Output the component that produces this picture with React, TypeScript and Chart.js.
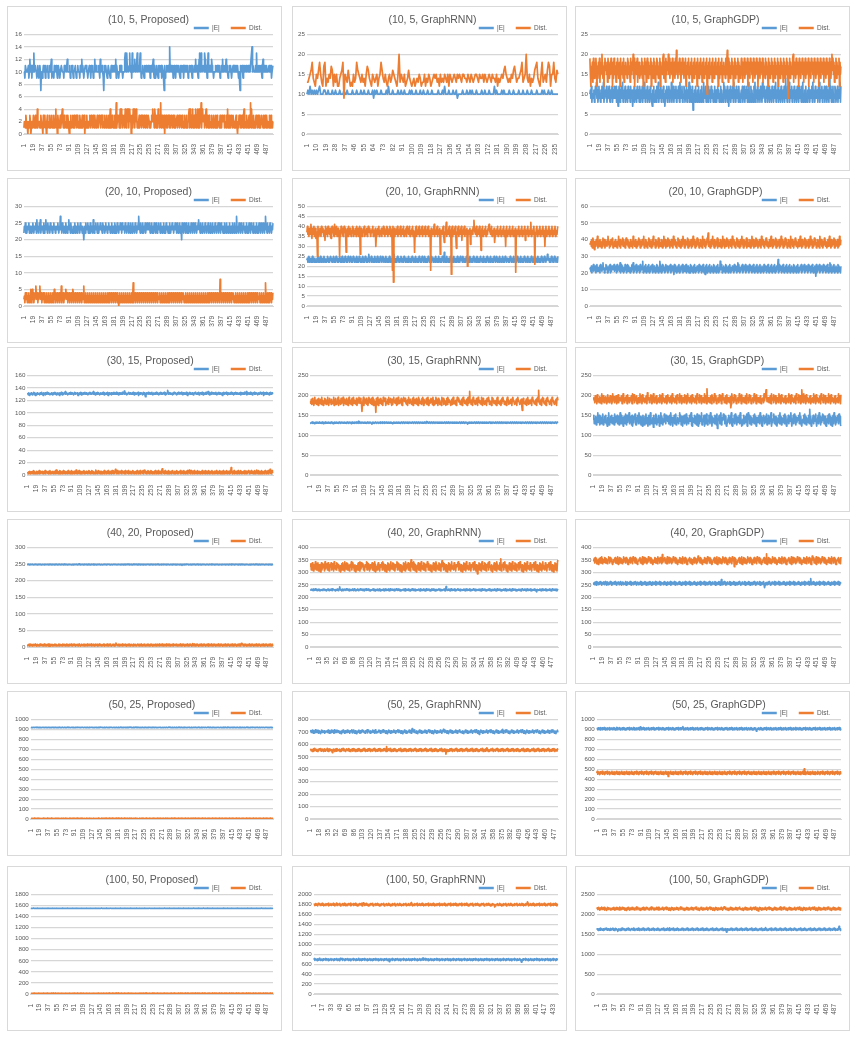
import React, { useEffect, useRef } from 'react';
import { Chart, registerables } from 'chart.js';

Chart.register(...registerables);

// Every series below is typed point by point, one character per point.
// A character is a base-36 code c and the plotted value is  base + c * step.
const decode = (s: string, base: number, step: number): number[] =>
  s.replace(/\s+/g, '').split('').map((ch) => base + parseInt(ch, 36) * step);

// ---------- (10, 5, ...) ----------
const E_10_5_PROPOSED = decode(`
3324433334 2353342433 6334432343 2343033234 3342433342
3343352333 2433343234 4323344333 2434433533 3342334432
3334423343 3324335343 2334443323 3433243342 3353343333
4325333432 0343433234 4332343343 3433524333 2344343323
3356436443 3463342633 4453433634 4336423343 3243343334
3342343335 3243234332 4343342443 3042334334 3373343342
3433243343 4332434334 2433434342 3343343243 3343533432
3563464334 4365334236 3344335433 2333433434 3342334353
4334353432 3343432334 3433434343 2330433432 4343343334
3343355734 4333436333 4343343245 3433434333 3433442334`, 7, 1);
const DIST_10_5_PROPOSED = decode(`
1221321102 2132012213 3123121412 2211322103 1231202312
2132123121 3212412032 2123123421 2312213132 1021312231
2312231321 2132112312 2302213122 1232132213 2132212321
1322132312 2132213221 3124121321 2131251232 3124142312
2314213424 1342302314 2413243121 2312231322 1321232123
3212123242 3143213214 2312512321 2302231213 2312132213
2132122312 2312321321 2132213122 3414213241 2312413241
3413251342 2312341231 2312213221 3221321312 2213121322
2312213241 2312132213 3121232102 1323121321 3412213221
2313514221 3121232213 2132123221 3123213212 2132131212`, 0, 1);

const E_10_5_GRAPHRNN = decode(`
1213121212 1231112211 2111211211 1211121121 1112111211
1211211121 1120212111 2111121311 1211112112 1121111212
1112111211 2111211121 1111211121 3111211121 1201111211
1211212111 2111121121 1121111312 1111212111 1211121111
2111211121 1121111211 1121211121 12111111`, 9, 1);
const DIST_10_5_GRAPHRNN = decode(`
4456795436 5796438935 4658736463 3567906547 5343645976
5464536875 4365456356 9754643564 5765436b46 5463457543
4534546534 4635465345 6564536454 6546365456 5465654665
5465465456 6546556465 4565465546 3545657865 4546578645
5679456b54 6354578954 3694564798 36695476`, 9, 1);

const E_10_5_GRAPHGDP = decode(`
4536243452 3647352463 4253643724 3546253463 2543624536
3462541364 2536472534 6243526345 2634513462 4352643526
4253624637 2453624352 6342153624 3526437245 3624536241
3546253642 5372436254 3624536427 3546243652 4362543726
4253604352 6342536243 5263427354 6243526345 2634524362
3524635243 6253427364 2536241536 2453627435 2634526342
4536243625 3462537243 6253426372 4536243526 3427354624
5362436253 4263524637 2453624352 6342536248 3526437245
3624536243 5263426354 2637243526 3425364253 4627354263
4352637245 3624536243 6253429364 2536243652 4362543726`, 6, 1);
const DIST_10_5_GRAPHGDP = decode(`
c85a9b6ca7 8bc95a7b9c 6a8bd97a5b c9a8b6c9a7 b8c9a5b7c8
9a6b8ca79b 5c8a9b7c6a 8b9a7cb8a9 6c8b9ad7c5 a9b8c6a9b7
8a9c7b5a9c 8b6ac97b8a 9c5b8a7c9b 6a8cb97a8c 5b9a8cd7b9
6c8b9ad8c7 a9b8c6a9b7 c8e9a7b9c8 a6b9c8a7b9 c5a8b9c7a8
b9c6a8b7c9 a8b5c9a7b8 c9a6b8c7a9 b8c3a9b7c8 a9b6c8a7b9
c8a9b5c7a8 b9c6a8b9a7 c8bea6c8b7 a9c8b5a9c7 b8a9c6b8a7
9c8b6a9c7b 8a9c5b8a7c 9b8a6c9b7a 8c9b5a8c7b 9a8c6b9a7c
8b9a5c8b7a 9c8b6a9c7b 8a9c5b8a7c 9b8a6c9b7a 8c9b2a8c7b
9a8cd6b9a7 c8b9a5c8b7 a9c8b6a9c7 b8a9c5b8a7 c9b8a6c9b7
a8c9b5a8c7 b9a8c6b9a7 c8b9a5c8b7 ad9c8b6a9c 7b8a9c5b8a`, 7, 1);

// ---------- (20, 10, ...) ----------
const E_20_10_PROPOSED = decode(`
2435232434 5234324353 2434526343 2536243432 5243634253
3425343243 5342434353 2437342534 2342534243 6342534232
4352434253 3425343243 0342534352 4325243426 3243534253
2435343254 3423534243 5342435234 3254232534 2435342534
3425342435 2342534253 4325342435 7342534253 2435243534
3542435234 2534253243 5342534243 5234253432 4253243534
2435342532 4352430534 2534253242 5343253425 3425342435
6342534253 4325342435 2342534253 4325342435 2534253432
4253425342 4352343253 4253427343 2534253423 5342435234
2534253432 5342435234 2534253425 3425734253 4325342435`, 20, 1);
const DIST_20_10_PROPOSED = decode(`
2314243132 4132513524 1324632413 2463241324 3142314231
4132413241 3524132413 2413261324 1324532413 2413241354
1324132413 2413241324 6132413241 3241324132 4132413241
3241324132 4132413241 2413241324 1324132413 0241324132
4132413241 3241324137 1324132413 2413241324 1324132413
2413241324 1324132413 3241324132 4132413241 2413241324
1324132413 2413241324 4132413241 3241324132 4132413241
3241324132 4132413241 2413241324 1324132413 2418241324
1324132413 2413241324 4132413241 3241324132 4132413241
2413241324 1324132413 3241324132 4132713241 2413241324`, 0, 1);

const E_20_10_GRAPHRNN = decode(`
3423524342 3524324232 4352342532 4342534232 4532423543
2435243253 4232453242 5324235432 4253423542 3253424325
4232543242 3524325342 4236424352 4324253423 5424325342
3542432534 2342532434 2536243242 5342324532 4325342432
4253424325 3424325342 4235432425 3423524324 2534243253
3424325342 4253424325 3427324253 4243253424 3253424325
4234253432 5342432534 2432534243 2534243254 3243253424
2534243253 4243253424 3253423542 4325342435 2432534243
3242534243 2534243253 4243253424 3253424325 3424325342
4253424325 3424325342 4253424365 3424325342 4253424325`, 20, 1);
const DIST_20_10_GRAPHRNN = decode(`
ruqsptrqvs otqrupstor qfupsrtqpu rstqpsnurq tpusrqtpos
urtqpvtrqu pstqrfspur tqpsurtqhs rtpuqstrpq sutprqstpu
qrtpsugrtq psrtupqsrt pqusrtqpsr tupqsrtkps qtrupsqrtp
sruqtpsrqu tpsrqutpsr 8u2qtpsrqt upsrqtupsr qtuprsqtpu
rsqtupsrqt upsrhqtups rqtupsrqtu psrqtupsrq tupsrq8tps
rqtvpsrqtu psrqtgpsrq tupmrqtwps rqtupsr6tu psrqtupjrq
tupsrqtuns rqtupsrqta psrqtlpsrq tuxsrqtups rqtupsiqtu
psrqtupsrq tuvsrqtups rqtmpsrqtu psrqtupsrq tupsrktups
rqtupsrqtu psrqt7psrq tupsrqtups rqtunsrqtu psrqtwpsrq
tupbrqtups rqtupsrqtu psrktupsrq tupsrqtups rqtupsrqtu`, 10, 1);

const E_20_10_GRAPHGDP = decode(`
7869587a68 7958a67869 5a7869b785 68a7958697 a5869787a6
8795a68796 b5a8697586 a7958a6987 5869a7b586 97a5869785
a6879c5869 7a58697a58 6979a58697 586a79586c 9758a69785
6a87958697 a5869784a6 9758697a58 6979a58696 7a58697585
a6978596a7 5869785a69 78596a7584 97a58697a5 869785a697
8596a7586c 97a5869785 a6978596a7 5869785a69 7859b6a758
697a58697a 5869785a69 78596a7586 97a58697a5 869785a697
8596a75869 7a58697a58 6978d5a697 8596a75869 7a58697a58
69785a6978 596a758697 a58697a586 9785a69785 96a7586973
a58697a586 9785a69785 96a7586b7a 58697a5869 785a697859`, 15, 1);
const DIST_20_10_GRAPHGDP = decode(`
9ab8c7da96 b8ac9e7ba8 c9a7b8d9ac 7b9a8ce9b7 a8c9bd7a9b
8ca97b9ea8 c7b9ad8c9a 7bd9ac8b7a 9c8ba7e9b8 ac79b8ad9c
7ba8c9be7a 9c8b7a9dc8 ba79c8eb9a 7c8ba9d7cb 8a9c7b8ea9
c7ba8d9cb7 a9c8b7ea9c 8b7a9dc8ba 79c8bea97c 8ba9d7cb8a
9c7b8ea9c7 ba8d9cb7a9 c8b7ea9c8b 7a9dcg8ba7 9c8bea97c8
ba9d7cb8a9 c7b8ea9c7b a8d9cb7a9c 8b7ea9c8b7 a9dc8ba79c
8bea97c8ba 9d7cb8a9c7 b8ea9c7ba8 d9cb7a9c8b 7ea9c8b7a9
dc8ba79c8b ea97c8ba9d 7cb8a9c7b8 ea9c7ba8d9 cb7a9c8b7e
a9c8b7a9dc 8ba79c8bea 97c8ba9d7c b8a9c7b8ea 9c7ba8d9cb
7a9c8b7ea9 c8b7a9dc8b a79c8bea97 c8ba9d7cb8 a9c7b8ea9c`, 28, 1);

// ---------- (30, 15, ...) ----------
const E_30_15_PROPOSED = decode(`
ab9ca8bacb 9abdac8b9a cabab9cbad ab8cabc9ba dbacab9abc
a9bcabdac9 bacab8cabd a9cbacbeab ca9bacbadc abca9bdacb
bca8bacbda 9cabcabdab cab9acbdca bacbeacb9a cbadbca9bc
abcadb9cab acbd8acbab c9abcadbca bdacb9acba cbadacbfab
ca9bacdbac babcadb9ca cbacbd8bac abcb9adbca 6bcabcdacb
acbda9bcab cadbacb9ac bdacabcbda 9cabcgdacb acbab9cadb
bcab9cadbc acbdab9cba cbadb8cabc dacbacb9ac bdcabacbd9
acbcadb9ca bcadacbeab 9cabdacbca bcadb9acbd acbcab8cad
bacbdac9bc abcadbacb9 cabdacbcab acbd9acbca bdacbe9cab
cabdacb9ac bdacabcb9a cbadbcacbd 8acbcadbca b9cadbacbc`, 120, 1);
const DIST_30_15_PROPOSED = decode(`
3425364253 4627352436 2543726354 3625437256 4352637245
5362453728 3462537264 3527436253 4627345263 7254362538
4263574236 2546372543 6352473625 3746253428 5362473526
3624537264 5263742536 4273562439 4627352645 3726453627
2546372543 6254736245 3627452637 2546372548 3625473625
4736254362 7452637254 3627a54362 7354263725 4362573426
5263742536 4725364273 5426372548 3627452637 2543627354
6254372536 4273562437 2546372543 6253742536 4723562473
2536472536 4273c54263 7254362473 5263742536 4273562437
5426373542 6372548362 7452637254 3627452637 2549362745`, 0, 1);

const E_30_15_GRAPHRNN = decode(`
bacbdacb9a cbadbcabdc abcadb9cab dacbacbdab cadbca9bcd
acbdabcadb cabdcbacbd abcadbcabd cba9dbacbd acbdabcfab
dcabdcbacb dacbadbcab dcba8bdacb adcbacdbac bdacbdacbd
abcdbacbda cbdacb9adc bacbdacbda cbadcbadbc abdcbadcab
dbcabdcbad cbadbcadbc abdcbadcab dbcaebdcab dcbadcbadb
cabdcbadcb adbcadbcab dcbadcabdb cabdcbadcb adbcadbcab
dcbadcabdb cabdcba8cb adbcadbcab dcbadcabdb cabdcbadcb
adbcadbcab dcbadcabdb cabdcbadcb adbcadbcab dcbadcabdb
cabdcbadcb adbcadbcab dcbadcabdb cabdcbadcb adbcadbcab
dcbadcabdb cabdcbadcb adbcadbcab dcbadcabdb cabdcbadcb`, 120, 1);
const DIST_30_15_GRAPHRNN = decode(`
geidhjfcgk ehgdifcjhe gidkfhcgej fidghkecfj ghdiegfkch
fjdgeikchf gdjehfkcig ehdjgfcike hgdfjcikeg hfdjcgeikh
ejgf6dhkci gfejdhcgki fegjdhkcif ge5jhdkcfi gejhdfckig
hjcfegidkh gfjecidhkg fehjcgdkie hgfjdceikh gjfedhcikg
eihgdfjckh geifjdhckg iefgdjhkci feghjdikcg hefjgidkch
dgfkeihcjg hdfeckigjd ehgcfjdkig fhecgidjkf egdhcfkijg
fhdegicjkg hefgdicjke gqfhdeickj gfdhejickg fhegdkicjh
gdfhecjigk hdgfeckjig efhdgcjkie gfdhcejikg hdfegcikjh
dgfeihcjkg hedfgicjkh gfdehic7gj hefdgicjkg dhfegickjh
gefdhicjkg rfedgichkj gefdhcjikg hfdegickjg hedfgicjkh`, 145, 2.5);

const E_30_15_GRAPHGDP = decode(`
gkdhfjcigm ehkcgjdfil cgejhkdfbi gmchejfkdh igclejhfkd
hjcfmgdkei bgjhdlfcke igmdhfjckb egjhldcifk hdmgejcifb
kfhcjeldgi bfkhcmjdeg iakfhdljcg ehkbifmdjg chelfjdkgi
fjdhkcmgei bhfkdjlcge igdhmfkcej bhgkdfjlci egdhkfjmcb
ighekdjfcl gbhkdifjmc eghkbdfjli cegkhdmfjb igehdkfjcl
9hgjkdfmce iglhkdfjbc egikhdfjmc bhgekdlfjc igehkdmjfb
cghkdifjel bgmhkdfjci eghkdlfjbc igehkdmfjc bgikhdfjel
chgkdifjmb eghkldfjci bgehkdmfjc igehkdlfjb cghkdifjme
bghkdlfjci egihkdmfjc bgehkdlfjc igehkdpfjb cghkdifjle
bghkdmfjci eglhkdfjcb ghekdlfjci gbhkdmfjce ighkdlfjcb`, 90, 3);
const DIST_30_15_GRAPHGDP = decode(`
gihdkfjcle hgdjficmeh kgdifjhcel gidhkfjcem hgjdifkceh
ldgihfjkce mhgdifjkcl egidhfjkcm hgldifjkce gihdmfjkcl
egihdfjkcn hgidfjlkce gmhdifjkce ghidlfjkcm egihdfjkce
lhgidfjkcm egihdfjkcl hgidmfjkce gihdlfjkce mhgidfjkcl
egihdfjkcm hgidlfjkce gihdmfjkcr egihdfjkcl hgidmfjkce
gihdlfjkce mhgidfjkcl egihdfj8cm hgidlfjkce gihdmfjkcl
egihdfjkcm hgidlfjkce gihdmfjkcl egihdfjkce hgidmfjkql
egihdfjkcm hgidlfjkce gihdmfjkcl egihdfjkce hgidmfjkcl
egihdfjkcm hgidlfjkce qihdmfjkcl egihdfjkce hgidmfjkcl
egihdfjkcm hgidlfjkce gihdmfjkcl egihdfjkce hgidmfjkcl`, 149, 2.5);

// ---------- (40, 20, ...) ----------
const E_40_20_PROPOSED = decode(`
gfhgegihfg hgfegihgfh egfhgighef ghfgehgifg fhgegifhge
hgfgiehgfh gegfhigfeh gfhgeighfg hefghgifge fghegihfgh
gfehgkghfe ghgfeihgfg hfegighfge hgfgiehfgh egfhgihgef
ghfegihgfh gegfhighef ghfgeihgfg hfegighfge hgfgiehgfh
egfhgighef ghfgehgifg fhgegifhge hgfgiehgfh gegfhigfeh
gfhgeighfg hefghgifge fghegihfgh gfehgighfe ghgfeihgfg
hfegighfge hgfgcehfgh egfhgihgef ghfegihgfh gegfhighef
ghfgeihgfg hfegighfge hgfgiehgfh egfhgighef ghfgehgifg
fhgegifhge hgfgiehgfh gegfhigfeh gfhgeighfg hefghgifge
fghegihfgh gfehgighfe ghgfeihgfg hfegighfge hgfgiehfgh`, 240.5, 0.5);
const DIST_40_20_PROPOSED = decode(`
gehfidgjfe hdgifejhgd fiegdhjfgi ehdgjfeidh gfjediahgf
idhgfejgid hfegjdihfg edjhgfidge jhfdgiehfj gdeihfjgdh
fgidejhfgd ihegfjdhgi efjdhgiefh jdgfiehdgj fhidegjfhi
dgehfjidgf hejgdifhje gdfihejgdf mhigefjdhg ifejdghfie
jgdhfiegjd fhigedjfhg idegjhfdig ejhdgfiejh dgfiejhgdf
iehjgdfieh gjdfihegjd fhiejgdhfi egjdhfiegj dhfgiejdhg
fiehjdgfie hjgdfiehjg dfiehjgdfi ehjgdfkehj gdfiehjgdf
iehjgdfieh jgdfiehjgd fiehjgdfie hjgdfiehjg dfiehjgdfi
ehjgdfiehj gdfiehjgdf iehjgdfieh jgdfilhjgd fiehjgdfie
hjgdfiehjg dfiehjgdfi ehjgdfiehj gdfiehjgdf iehjgdfieh`, -10, 1);

const E_40_20_GRAPHRNN = decode(`
gfihegjdhf kgeidhfjgc ehfgidjkge hfcgijedhf gjekdihgfc
hgfjediksg fhcejgdihf ekgjfhdicg hefjgdikhe cgfjhdeigk
fhgejdicgh kefgjhdice gfhjekdicg hfejgdikch gefhjdicgk
ehfgjdicke ghfjedicgh kfegjhdicg efhgjdikce hgfjedicgh
fkgejhdicg efhgjdickh gefjhdicgk ehfgjdicge khfjedicgh
egfjkhdicg efhgjdicth gefjhdickg ehfgjdicge hkfjedicgh
gefjhdicgk ehfgjdicge hfkjedicgh gefjhdicgk ehfgjdicge
hfjekdicgh gefjhdicgk ehfgjdicge hfjedkicgh gefjhdicgk
ehfgjdicge hfjedicgkh gefjhdicgk ehfgjdicge hfjedic8hg
gefjhdicgk ehfgjdicge hfjedicgkh gefjhdicgk`, 214, 1);
const DIST_40_20_GRAPHRNN = decode(`
gjdhkfcieg lhdjfkcgie bhkdjgficl ehgjdkfcih gkdjhfclie
hdkgjficeh bgjdkhfcli egkdjhfcig hldjkgfcie bhgdjkfcli
ekhgjdfcih gldkjhfcie hgkdjfclib egdhkjfcig hkdljgfcie
bhgkdjfcil ehgkdjfcig hldkjgfcie bhgdkjfcli ehgkdjfcin
gkhdljfcie bhgkdjfcil ehgdkjfcig hlkdjgfcie bhgkdjfcli
ehgdkjfcig mhkdjgfcie bhgkdjfcil ehgdkjfcig hkldjgfcie
bhgkdjfcli ehgdkjfcig hkdjlgfcie 9hgkdjfcil ehgdkjfcig
hkdljgfcie bhgkdjfcli ehgdkjocig hkdjlgfcie bhgkdjfcil
ehgdkjfcig hkdjlgfcie bhgkdjfcli ehgdkjfcig hkdjlgfcie
bhgkdjfcil ehgdkjfcig hkdjlgfcie bhgkdjfcln`, 258, 4);

const E_40_20_GRAPHGDP = decode(`
gehdifcjgh fdiegjhcfg iehdjfgcih dgefjhicgd hfiejgdchf
igdhejfcgi hdfegjchid gfhejdicgf hdiegjfchg idfhejgcid
fhgejdicfh gdiejfhcgi dfhegjcidg hfejdicghf gdiejhfcgi
dhfegjcidh gfejdicghf dgiejfhcgd ihfegjcidg hfejdicghd
fgiejhfcgd ihfegjcidg hfejdicghf dgiejfhcgd ihfegjcidg
hfejdicgnf dgiejfhcgd ihfegjcidg hfejdicghf dgiejhfcgd
ihfegjcidg hfejdicghf dgiejfhcgd ihfegjcidg hfejd7cghf
dgiejhfcgd ihfegjcidg hfejdicghf dgiejfhcgd ihfegjcidg
hfejdicghf dgiejhfcgd ihfegjcidg hfejdicgpf dgiejfhcgd
ihfegjcidg hfejdicghf dgiejhfcgd ihfegjcidg hfejdicghf`, 225, 2);
const DIST_40_20_GRAPHGDP = decode(`
hgjdkficeg bhjgdkflci ehgkdjficg hljdkgficb ehgjkdficl
gbhkdjficg elhgjdkfic bgehkdjfic lghjdkficb eghjkdficl
bghkdjfich elhgjdkfic bgehkdjfic lghjdkfico eghjkdficl
cghkdjficg elhgjdkfic bgehkdjfic lghjdkficb eghjkdfich
bghkdjficg emhgjdkfic bgehkdjfic lghjdkficb eghjkdficl
bghkdjfich elhgjdkfic bgehkdjfic lghj8kficb eghjkdficl
bghkdjficg elhgjdkfic bgehkdjfic lghjdkficb eghjkdficp
bghkdjficg elhgjdkfic bgehkdjfic lghjdkficb eghjkdficl
bghkdjficg elhgjdkfic bgehkdjfic lghjdkficb emhjkdficl
bghkdjficg elhgjdkfic bgehkdjfic lghjdkficb eghjkdficl`, 299, 3);

// ---------- (50, 25, ...) ----------
const E_50_25_PROPOSED = decode(`
gfhgeihgfg hgfigehgfh egfhgigfeg ghfgeigifg fhgegifhge
hgfgiehgfh gegfhigfeh gfhgeighfg hefghgifge fghegihfgh
gfehgighfe ghgfeihgfg hfegighfge hgfgiehfgh egfhgihgef
ghfegihgfh gegfhighef ghfgeihgfg hfegighfge hgfgiehgfh
egfhgighef ghfgehgifg fhgegifhge hgfgiehgfh gegfhigfeh
gfhgeighfg hefghgifge fghegihfgh gfehgighfe ghgfeihgfg
hfegighfge hgfgiehfgh egfhgihgef ghfegihgfh gegfhighef
ghfgeihgfg hfegighfge hgfgiehgfh egfhgighef ghfgehgifg
fhgegifhge hgfgiehgfh gegfhigfeh gfhgeighfg hefghgifge
fghegihfgh gfehgighfe ghgfeihgfg hfegighfge hgfgiehfgh`, 904, 1);
const DIST_50_25_PROPOSED = decode(`
gehfidgjfe hdgifejhgd fiegdhjfgi ehdgjfeidh gfjedihhgf
idhgfejgid hfegjdihfg edjhgfidge jhfdgiehfj gdeihfjgdh
fgidejhfgd ihegfjdhgi efjdhgiefh jdgfiehdgj fhidegjfhi
dgehfjidgf hejgdifhje gdfihejgdf khigefjdhg ifejdghfie
jgdhfiegjd fhigedjfhg idegjhfdig ejhdgfiejh dgfiejhgdf
iehjgdfieh gjdfihegjd fhiejgdhfi egjdhfiegj dhfgiejdhg
fiehjdgfie hjgdfiehjg dfiehjgdfi ehjgdfkehj gdfiehjgdf
iehjgdfieh jgdfiehjgd fiehjgdfie hjgdfiehjg dfiehjgdfi
ehjgdfiehj gdfiehjgdf iehjgdfieh jgdfiehjgd fiehjgdfie
hjgdfiehjg dfiehjgdfi ehjgdfiehj gdfiehjgdf iehjgdfieh`, -11, 1);

const E_50_25_GRAPHRNN = decode(`
gjehkfcidg lhejfkcgid bhkejgfich ehgjekfcid gkejhfcldi
hekgjficdh bgjekhfcid egkejhfcig hldjkgfcie bhgejkfcid
ekhgjefcih gldkjhfcie hgkejfclid egehkjfcig hkeljgfcid
bhgkejfcid ehgkejfcig hlekjgfcid bhgekjfcid ehgkejfcio
gkhelefcid bhgkejfcid ehgekjfcig hlkejgfcid bhgkejfcid
ehgekjfcig mhkejgfcid bhgkejfcid ehgekjfcig hkleggfcid
bhgkejfcid ehgekjfcig hkejlgfcid 9hgkejfcid ehgekjfcig
hkeljgfcid bhgkejfcid ehgekjmcig hkejlgfcid bhgkejfcid
ehgekjfcig hkejlgfcid bhgkejfcid ehgekjfcig hkejlgfcid
bhgkejfcid ehgekjfcig hkejlgfcid bhgke`, 654, 3);
const DIST_50_25_GRAPHRNN = decode(`
fiehcgjdkf hgdicfejhg kdfiehcgjd fhgkdicejf hgd9fiehcg
jdkfhgeicf djhgkefidc gjhfekdicg fhjdgkeicf hgdjfkeicg
hfdjgkeicf gdhjfekicg hfdjgkeicf gdhjfekicg hfdjgkeicp
gdhjfekicg hfdjgkeicf gdhjfekicg hfdjgkeicf gdhjfekicg
hfdjgkeicf gdhjfekicg hfdjgkeicf gdhjfekicg hfdjgkeicf
gdhjfekicg hfdjg5eicf gdhjfekicg hfdjgkeicf gdhjfekicg
hfdjgkeicf gdhjfekicg hfdjgkeicf gdhjfekicg hfdjgmeicf
gdhjfekicg hfdjgkeicf gdhjfekicg hfdjgkeicf gdhjfekicg
hfdjgkeicf gdhjfekicg hfdjgkeicf gdhjfekicg hfdjgkeicf
gdhjfekicg hfdjgkeicf gdhjfekicg hfdjg`, 507, 3);

const E_50_25_GRAPHGDP = decode(`
ghdjeifckh gjdhfkeicg hdjgifkceh gjdhfkeicg hldjgifkce
hgjdfkeicg hdjgifkceh gjdhfkeicg hdjgifkcem gjdhfkeicg
hdjgifkceh gjdhfkeicg hdjgifkceh gjdhfkeicg hdjgifkceh
gjdhfkeicg hdjgifkceh gjdhflnicg hdjgifkceh gjdhfkeicg
hdjgifkceh gjdhfkeicg hdjgifkceh gjdhfkeicg hdjgifkceh
gjdhfkeicg hdjgifkceh gjdhfkeicg hdjgifkceh gjdhfkeicg
hdjgifkceh gjdhfkeicg hdjgif8ceh gjdhfkeicg hdjgifkceh
gjdhfkeicg hdjgifkceh gjdhfkeicg hdjgifkceh gjdhfkeicg
hdjgifkceh gjdhfkeicg hdjgifkceh gjdhfkeicg hdjgifkceh
gjdhfkeicg hdjgifkceh gjdhfkeicg hdjgifkceh gjdhfkeicg`, 859, 3);
const DIST_50_25_GRAPHGDP = decode(`
gkdhifcjeg hkdgifcjeh gkdhifcjeg hkdgifcjeh gkdhifcjeg
hkdgifcjeh gkdhifcjeg hkdgifcjeh gkdhifcjeg hkdgifcjeh
gkdhifcjeg hkdgifcjeh gkdhifcjeg hkdgifcjeh gkdhif7jeg
hkdgifcjeh gkdhifcjeg hkdgifcjeh gkdhifcjeg hkdgifcjeh
gkdhifcjeg hkdgifcjeh gkdhifcjeg hkdgifcjeh gkdhifcjeg
hkdgifcjeh gkdhifcjeg hkdgifcjeh gkdhifcjeg hkdgifcjeh
gkdhifcjeg hkdgifcjeh gkdhifcjeg hkdgifcjeh gkdhifcjeg
hkdgifcjeh gkdhifcjeg hkdgifcjeh gkdhifcjeg hkdgifcjeh
gkdhifcjeg hkdgifcjeh gkdhqfcjeg hkdgifcjeh gkdhifcjeg
hkdgifcjeh gkdhifcjeg hkdgifcjeh gkdhifcjeg hkdgifcjeh`, 399, 4);

// ---------- (100, 50, ...) ----------
const E_100_50_PROPOSED = decode(`
gfhgeihgfg hgfigehgfh egfhgigfeg ghfgeigifg fhgegifhge
hgfgiehgfh gegfhigfeh gfhgeighfg hefghgifge fghegihfgh
gfehgighfe ghgfeihgfg hfegighfge hgfgiehfgh egfhgihgef
ghfegihgfh gegfhighef ghfgeihgfg hfegighfge hgfgiehgfh
egfhgighef ghfgehgifg fhgegifhge hgfgiehgfh gegfhigfeh
gfhgeighfg hefghgifge fghegihfgh gfehgighfe ghgfeihgfg
hfegighfge hgfgiehfgh egfhgihgef ghfegihgfh gegfhighef
ghfgeihgfg hfegighfge hgfgiehgfh egfhgighef ghfgehgifg
fhgegifhge hgfgiehgfh gegfhigfeh gfhgeighfg hefghgifge
fghegihfgh gfehgighfe ghgfeihgfg hfegighfge hgfgiehfgh`, 1534, 1);
const DIST_100_50_PROPOSED = decode(`
gehfidgjfe hdgifejhgd fiegdhjfgi ehdgjfeidh gfjedikhgf
idhgfejgid hfegjdihfg edjhgfidge jhfdgiehfj gdeihfjgdh
fgidejhfgd ihegfjdhgi efjdhgiefh jdgfiehdgj fhidegjfhi
dgehfjidgf hejgdifhje gdfihejgdf mhigefjdhg ifejdghfie
jgdhfiegjd fhigedjfhg idegjhfdig ejhdgfiejh dgfiejhgdf
iehjgdfieh gjdfihegjd fhiejgdhfi egjdhfiegj dhfgiejdhg
fiehjdgfie hjgdfiehjg dfiehjgdfi ehjgdfkehj gdfiehjgdf
iehjgdfieh jgdfiehjgd fiehjgdfie hjgdfiehjg dfiehjgdfi
ehjgdfiehj gdfiehjgdf iehjgdfieh jgdfilhjgd fiehjgdfie
hjgdfiehjg dfiehjgdfi ehjgdfiehj gdfiehjgdf iehjgdfieh`, -4, 1);

const E_100_50_GRAPHRNN = decode(`
gkdhifcjeg lhdgifcjeh gkdhifcjeg hkdgifcjeh gkdhifcjlg
hkdgifcjeh gkdhifcjeg hkdgifcjeh gldhifcjeg hkdgifcjeh
gkdhifcjeg hkdgifcjeh gkdhifcjeg hkdgif8jeh gkdhifcjeg
hkdgifcjeh gkdhifcjeg hkdgifcjeh gkdhifcjeg hkdgiflmeh
gkdhifcjeg hkdgifcjeh gkdhifcjeg hkdgifcjeh gkdhifcjeg
hkdgifcjeh gkdhifcjeg hkdgifcjeh gkdhifcjeg hkdgifcjeh
gkdhifcjeg hkdgifcjeh gkdhifcjeg hkdgifcjeh gkdhifcjeg
hkdgifcjeh gkdhifcjeg hkdg6fcjeh gkdhifcjeg hkdgifcjeh
gkdhifcjeg hkdgifcjeh gkdhifcjeg hkdgifcjeh g`, 612, 5);
const DIST_100_50_GRAPHRNN = decode(`
ghdjeifckh gjdhfkeicg hdjgifkceh gjdhfkeicg hldjgifkce
hgjdfkeicg hdjgifkceh gjdhfkeicg hdjgifkcem gjdhfkeicg
hdjgifkceh gjdhfkeicg hdjgifkceh gjdhfkeicg hdjgifkceh
gjdhfkeicg hdjgifkceh gjdhflnicg hdjgifkceh gjdhfkeicg
hdjgifkceh gjdhfkeicg hdjgifkceh gjdhfkeicg hdjgifkceh
gjdhfkeicg hdjgifkceh gjdhfkeicg hdjgifkceh gjdhfkeicg
hdjgifkceh gjdhfkeicg hdjgif8ceh gjdhfkeicg hdjgifkceh
gjdhfkeicg hdjgifkceh gjdhfkeicg hdjgipkceh gjdhfkeicg
hdjgifkceh gjdhfkeicg hdjgifkceh gjdhfkeicg h`, 1701, 6);

const E_100_50_GRAPHGDP = decode(`
fiehcgjdkf hgdicfejhg kdfiehcgjd fhgkdicejf hgd9fiehcg
jdkfhgeicf djhgkefidc gjhfekdicg fhjdgkeicf hgdjfkeicg
hfdjgkeicf gdhjfekicg hfdjgkeicf gdhjfekicg hfdjgkeicl
gdhjfekicg hfdjgkeicf gdhjfekicg hfdjgkeicf gdhjfekicg
hfdjgkeicf gdhjfekicg hfdjgkeicf gdhjfekicg hfdjgkeicf
gdhjfekicg hfdjg6eicf gdhjfekicg hfdjgkeicf gdhjfekicg
hfdjgkeicf gdhjfekicg hfdjgkeicf gdhjfekicg hfdjgmeicf
gdhjfekicg hfdjgkeicf gdhjfekicg hfdjgkeicf gdhjfekicg
hfdjgkeicf gdhjfekicg hfdjgkeicf gdhjfekicg hfdjgkeicf
gdhjfekicg hfdjgkeicf gdhjfekicg hfdjgkeicf gdhjfrkicg`, 1513, 7);
const DIST_100_50_GRAPHGDP = decode(`
gjehkfcidg lhejfkcgid bhkejgfich ehgjekfcid gkejhfcldi
hekgjficdh bgjekhfcid egkejhfcig hldjkgfcie bhgejkfcid
ekhgjefcih gldkjhfcie hgkejfclid egehkjfcig hkeljgfcid
bhgkejfcid ehgkejfcig hlekjgfcid bhgekjfcid ehgkejfcig
gkhelefcid bhgkejfcid ehgekjfcig hlkejgfcid bhgkejfcid
ehgekjfcig mhkejgfcid bhgkejfcid ehgekjfcig hkleggfcid
bhgkejfcid ehgekjfcig hkejlgfcid 9hgkejfcid ehgekjfcig
hkeljgfcid bhgkejfcid ehgekjmcig hkejlgfcid bhgkejfcid
ehgekjfcig hkejlgfcid bhgkejfcid ehgekjfcig hkejlgfcid
bhgkejfcid ehgekjfcig hkejlgfcid bhgkejfcid ehgekjfcig`, 2014, 8);

// ---------- panel list ----------
const TITLES = [
  '(10, 5, Proposed)', '(10, 5, GraphRNN)', '(10, 5, GraphGDP)',
  '(20, 10, Proposed)', '(20, 10, GraphRNN)', '(20, 10, GraphGDP)',
  '(30, 15, Proposed)', '(30, 15, GraphRNN)', '(30, 15, GraphGDP)',
  '(40, 20, Proposed)', '(40, 20, GraphRNN)', '(40, 20, GraphGDP)',
  '(50, 25, Proposed)', '(50, 25, GraphRNN)', '(50, 25, GraphGDP)',
  '(100, 50, Proposed)', '(100, 50, GraphRNN)', '(100, 50, GraphGDP)',
];
const E_SERIES = [
  E_10_5_PROPOSED, E_10_5_GRAPHRNN, E_10_5_GRAPHGDP,
  E_20_10_PROPOSED, E_20_10_GRAPHRNN, E_20_10_GRAPHGDP,
  E_30_15_PROPOSED, E_30_15_GRAPHRNN, E_30_15_GRAPHGDP,
  E_40_20_PROPOSED, E_40_20_GRAPHRNN, E_40_20_GRAPHGDP,
  E_50_25_PROPOSED, E_50_25_GRAPHRNN, E_50_25_GRAPHGDP,
  E_100_50_PROPOSED, E_100_50_GRAPHRNN, E_100_50_GRAPHGDP,
];
const DIST_SERIES = [
  DIST_10_5_PROPOSED, DIST_10_5_GRAPHRNN, DIST_10_5_GRAPHGDP,
  DIST_20_10_PROPOSED, DIST_20_10_GRAPHRNN, DIST_20_10_GRAPHGDP,
  DIST_30_15_PROPOSED, DIST_30_15_GRAPHRNN, DIST_30_15_GRAPHGDP,
  DIST_40_20_PROPOSED, DIST_40_20_GRAPHRNN, DIST_40_20_GRAPHGDP,
  DIST_50_25_PROPOSED, DIST_50_25_GRAPHRNN, DIST_50_25_GRAPHGDP,
  DIST_100_50_PROPOSED, DIST_100_50_GRAPHRNN, DIST_100_50_GRAPHGDP,
];
const Y_MAX = [16, 25, 25, 30, 50, 60, 160, 250, 250, 300, 400, 400, 1000, 800, 1000, 1800, 2000, 2500];
const Y_STEP = [2, 5, 5, 5, 5, 10, 20, 50, 50, 50, 50, 50, 100, 100, 100, 200, 200, 500];
const X_LABEL_EVERY = [18, 9, 18, 18, 18, 18, 18, 18, 18, 18, 17, 18, 18, 17, 18, 18, 16, 18];
const SERIES_NAMES = ['|E|', 'Dist.'];

const BLUE = '#5B9BD5';
const ORANGE = '#ED7D31';
const GRID = '#d6d6d6';
const BORDER = '#d9d9d9';
const TEXT = '#595959';
const FONT = '"Liberation Sans", Arial, sans-serif';

const COL_LEFT = [7, 292, 575];
const COL_PAD_LEFT = [5, 3, 3];
const ROW_TOP = [6, 178, 347, 519, 691, 866];
const BOX_W = 275;
const BOX_H = 165;

function Panel({ idx }: { idx: number }) {
  const ref = useRef<HTMLCanvasElement | null>(null);
  const col = idx % 3;
  const row = Math.floor(idx / 3);
  useEffect(() => {
    const canvas = ref.current;
    if (!canvas) return;
    const e = E_SERIES[idx];
    const d = DIST_SERIES[idx];
    const n = Math.max(e.length, d.length);
    const labels = Array.from({ length: n }, (_, i) => String(i + 1));
    const every = X_LABEL_EVERY[idx];
    const chart = new Chart(canvas, {
      type: 'line',
      data: {
        labels,
        datasets: [
          {
            label: SERIES_NAMES[0], data: e, borderColor: BLUE, backgroundColor: BLUE,
            borderWidth: 1.7, pointRadius: 0, tension: 0, borderJoinStyle: 'round', order: 1,
          },
          {
            label: SERIES_NAMES[1], data: d, borderColor: ORANGE, backgroundColor: ORANGE,
            borderWidth: 1.7, pointRadius: 0, tension: 0, borderJoinStyle: 'round', order: 0,
          },
        ],
      },
      options: {
        responsive: false,
        animation: false,
        events: [],
        layout: { padding: { left: COL_PAD_LEFT[col], right: 8, top: 0, bottom: 0 } },
        plugins: {
          title: {
            display: true, text: TITLES[idx], fullSize: false, color: TEXT,
            font: { family: FONT, size: 10.5, weight: 'normal', lineHeight: 1.2 },
            padding: { top: 6.4, bottom: -12.25 },
          },
          legend: {
            display: true, position: 'top', align: 'end', fullSize: false, maxHeight: 20.75,
            labels: {
              usePointStyle: true, pointStyle: 'line', pointStyleWidth: 15, boxHeight: 6.5,
              padding: 11, color: TEXT, font: { family: FONT, size: 6.5 },
              sort: (a: any, b: any) => a.datasetIndex - b.datasetIndex,
              generateLabels: (c: any) =>
                Chart.defaults.plugins.legend.labels.generateLabels(c).map((l: any) => ({ ...l, lineWidth: 2.4 })),
            },
          },
          tooltip: { enabled: false },
        },
        scales: {
          x: {
            type: 'category',
            grid: { display: false },
            border: { display: true, color: GRID, width: 1 },
            ticks: {
              autoSkip: false, minRotation: 90, maxRotation: 90, padding: 2, color: TEXT,
              font: { family: FONT, size: 6.5 },
              callback: (_v: any, i: number) => (i % every === 0 ? labels[i] : null),
            },
            afterFit: (s: any) => { s.height = 36; },
          },
          y: {
            min: 0, max: Y_MAX[idx],
            grid: { color: GRID, lineWidth: 1.2, drawTicks: false },
            border: { display: false },
            ticks: {
              stepSize: Y_STEP[idx], autoSkip: false, padding: 2, color: TEXT,
              font: { family: FONT, size: 6.2 },
              callback: (v: any) => String(v),
            },
          },
        },
      } as any,
    });
    return () => chart.destroy();
  }, [idx, col]);

  return (
    <div
      style={{
        position: 'absolute', left: COL_LEFT[col], top: ROW_TOP[row], width: BOX_W, height: BOX_H,
        boxSizing: 'border-box', border: `1px solid ${BORDER}`, background: '#fff',
      }}
    >
      <canvas ref={ref} width={BOX_W - 2} height={BOX_H - 2} style={{ display: 'block', width: BOX_W - 2, height: BOX_H - 2 }} />
    </div>
  );
}

export default function App() {
  return (
    <div style={{ position: 'absolute', left: 0, top: 0, width: 856, height: 1061, background: '#fff', overflow: 'hidden' }}>
      {TITLES.map((_, i) => (
        <Panel key={i} idx={i} />
      ))}
    </div>
  );
}
